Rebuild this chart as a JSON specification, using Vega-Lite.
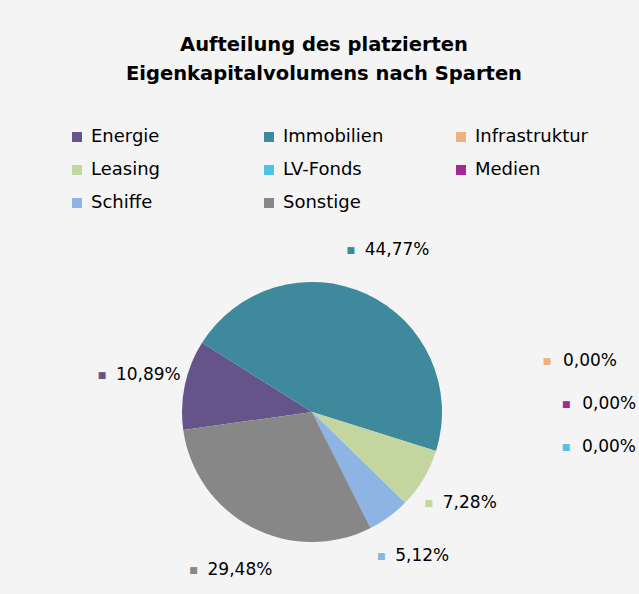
{
  "$schema": "https://vega.github.io/schema/vega-lite/v6.json",
  "width": 260,
  "height": 260,
  "autosize": {"type": "none"},
  "padding": {"left": 182, "top": 282, "right": 197, "bottom": 52},
  "background": "#f4f4f4",
  "title": {
    "text": ["Aufteilung des platzierten", "Eigenkapitalvolumens nach Sparten"],
    "font": "DejaVu Sans",
    "fontSize": 19.5,
    "fontWeight": "bold",
    "color": "#000000",
    "anchor": "middle",
    "frame": "group",
    "dx": 12,
    "offset": 44,
    "lineHeight": 29
  },
  "config": {"view": {"stroke": null}, "font": "DejaVu Sans"},
  "data": {
    "values": [
      {"Sparte": "Energie", "Anteil": 10.89, "Label": "10,89%"},
      {"Sparte": "Immobilien", "Anteil": 44.77, "Label": "44,77%"},
      {"Sparte": "Infrastruktur", "Anteil": 0, "Label": "0,00%"},
      {"Sparte": "Leasing", "Anteil": 7.28, "Label": "7,28%"},
      {"Sparte": "LV-Fonds", "Anteil": 0, "Label": "0,00%"},
      {"Sparte": "Medien", "Anteil": 0, "Label": "0,00%"},
      {"Sparte": "Schiffe", "Anteil": 5.12, "Label": "5,12%"},
      {"Sparte": "Sonstige", "Anteil": 29.48, "Label": "29,48%"}
    ]
  },
  "layer": [
    {
      "mark": {"type": "arc", "outerRadius": 130, "strokeWidth": 0},
      "encoding": {
        "theta": {"field": "Anteil", "type": "quantitative", "stack": true, "scale": {"range": [4.5728, 10.856]}},
        "order": {"field": "Sparte", "type": "nominal"},
        "color": {
          "field": "Sparte",
          "type": "nominal",
          "scale": {
            "domain": ["Energie", "Leasing", "Schiffe", "Immobilien", "LV-Fonds", "Sonstige", "Infrastruktur", "Medien"],
            "range": ["#65548a", "#c4d6a0", "#8eb4e3", "#3e899c", "#4fc3e6", "#878787", "#f0b080", "#a02b93"]
          },
          "legend": {
            "title": null,
            "orient": "none",
            "legendX": -114,
            "legendY": -154,
            "columns": 3,
            "gridAlign": "all",
            "columnPadding": 55,
            "rowPadding": 15,
            "symbolType": "square",
            "symbolSize": 100,
            "symbolStrokeWidth": 0,
            "labelFont": "DejaVu Sans",
            "labelFontSize": 18,
            "labelColor": "#000000",
            "labelOffset": 5,
            "padding": 0
          }
        }
      }
    },
    {
      "transform": [{"filter": "datum.Anteil > 0"}],
      "mark": {"type": "text", "radius": 178, "align": "left", "dx": -22, "fontSize": 17, "font": "DejaVu Sans", "color": "#000000"},
      "encoding": {
        "theta": {"field": "Anteil", "type": "quantitative", "stack": true},
        "order": {"field": "Sparte", "type": "nominal"},
        "detail": {"field": "Sparte", "type": "nominal"},
        "text": {"field": "Label", "type": "nominal"}
      }
    },
    {
      "transform": [{"filter": "datum.Anteil > 0"}],
      "mark": {"type": "text", "radius": 178, "align": "center", "dx": -36, "fontSize": 9, "font": "DejaVu Sans"},
      "encoding": {
        "theta": {"field": "Anteil", "type": "quantitative", "stack": true},
        "order": {"field": "Sparte", "type": "nominal"},
        "color": {"field": "Sparte", "type": "nominal"},
        "text": {"value": "■"}
      }
    },
    {
      "transform": [
        {"stack": "Anteil", "groupby": [], "sort": [{"field": "Sparte"}], "as": ["s0", "s1"]},
        {"filter": "datum.Sparte === 'Infrastruktur'"}
      ],
      "encoding": {"theta": {"field": "s1", "type": "quantitative"}},
      "layer": [
        {"mark": {"type": "text", "radius": 175, "align": "left", "dx": 84, "dy": -103, "fontSize": 17, "font": "DejaVu Sans", "color": "#000000"},
         "encoding": {"text": {"field": "Label", "type": "nominal"}}},
        {"mark": {"type": "text", "radius": 175, "align": "center", "dx": 68, "dy": -103, "fontSize": 9, "font": "DejaVu Sans"},
         "encoding": {"color": {"field": "Sparte", "type": "nominal"}, "text": {"value": "■"}}}
      ]
    },
    {
      "transform": [
        {"stack": "Anteil", "groupby": [], "sort": [{"field": "Sparte"}], "as": ["s0", "s1"]},
        {"filter": "datum.Sparte === 'LV-Fonds'"}
      ],
      "encoding": {"theta": {"field": "s1", "type": "quantitative"}},
      "layer": [
        {"mark": {"type": "text", "radius": 175, "align": "left", "dx": 103, "dy": -17, "fontSize": 17, "font": "DejaVu Sans", "color": "#000000"},
         "encoding": {"text": {"field": "Label", "type": "nominal"}}},
        {"mark": {"type": "text", "radius": 175, "align": "center", "dx": 87, "dy": -17, "fontSize": 9, "font": "DejaVu Sans"},
         "encoding": {"color": {"field": "Sparte", "type": "nominal"}, "text": {"value": "■"}}}
      ]
    },
    {
      "transform": [
        {"stack": "Anteil", "groupby": [], "sort": [{"field": "Sparte"}], "as": ["s0", "s1"]},
        {"filter": "datum.Sparte === 'Medien'"}
      ],
      "encoding": {"theta": {"field": "s1", "type": "quantitative"}},
      "layer": [
        {"mark": {"type": "text", "radius": 175, "align": "left", "dx": 145, "dy": -130, "fontSize": 17, "font": "DejaVu Sans", "color": "#000000"},
         "encoding": {"text": {"field": "Label", "type": "nominal"}}},
        {"mark": {"type": "text", "radius": 175, "align": "center", "dx": 129, "dy": -130, "fontSize": 9, "font": "DejaVu Sans"},
         "encoding": {"color": {"field": "Sparte", "type": "nominal"}, "text": {"value": "■"}}}
      ]
    }
  ]
}
